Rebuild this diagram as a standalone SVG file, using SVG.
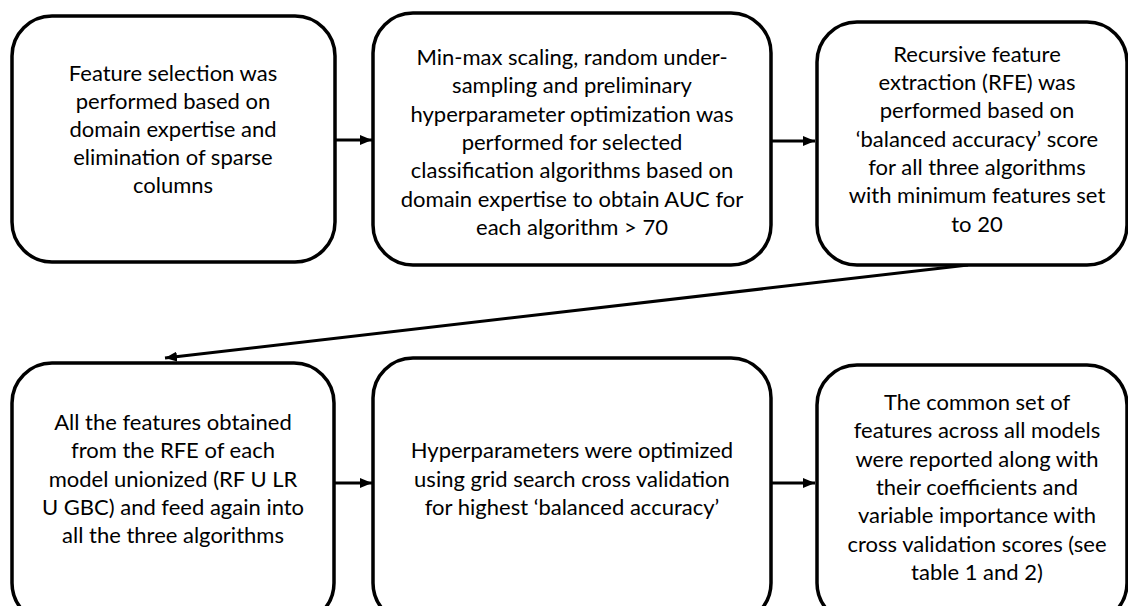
<svg xmlns="http://www.w3.org/2000/svg" width="1128" height="606" viewBox="0 0 1128 606">
<style>
.box{fill:#fff;stroke:#000;stroke-width:3.5}
.t{font-family:Lato,"Liberation Sans",sans-serif;font-size:22px;fill:#000;text-anchor:middle}
.c{stroke:#000;stroke-width:3;fill:none}
</style>
<defs>
<marker id="ah" viewBox="0 0 12 10" refX="12" refY="5" markerWidth="12" markerHeight="10" markerUnits="userSpaceOnUse" orient="auto">
<path d="M0,0 L12,5 L0,10 Z" fill="#000"/>
</marker>
</defs>
<rect width="1128" height="606" fill="#fff"/>
<g id="connectors">
<line class="c" x1="335" y1="140" x2="372" y2="140" marker-end="url(#ah)"/>
<line class="c" x1="772" y1="141" x2="815" y2="141" marker-end="url(#ah)"/>
<line class="c" x1="968" y1="265" x2="165" y2="358" marker-end="url(#ah)"/>
<line class="c" x1="334" y1="483" x2="372" y2="483" marker-end="url(#ah)"/>
<line class="c" x1="772" y1="483" x2="815" y2="483" marker-end="url(#ah)"/>
</g>
<g id="n1">
<rect class="box" x="12" y="16" width="323" height="246" rx="40"/>
<text class="t"><tspan x="173" y="81">Feature selection was</tspan><tspan x="173" y="109">performed based on</tspan><tspan x="173" y="137">domain expertise and</tspan><tspan x="173" y="165">elimination of sparse</tspan><tspan x="173" y="193">columns</tspan></text>
</g>
<g id="n2">
<rect class="box" x="373" y="13" width="398" height="252" rx="40"/>
<text class="t"><tspan x="572" y="65">Min-max scaling, random under-</tspan><tspan x="572" y="93">sampling and preliminary</tspan><tspan x="572" y="122">hyperparameter optimization was</tspan><tspan x="572" y="150">performed for selected</tspan><tspan x="572" y="178">classification algorithms based on</tspan><tspan x="572" y="207">domain expertise to obtain AUC for</tspan><tspan x="572" y="235">each algorithm &gt; 70</tspan></text>
</g>
<g id="n3">
<rect class="box" x="817" y="22" width="310" height="243" rx="40"/>
<text class="t"><tspan x="977" y="62">Recursive feature</tspan><tspan x="977" y="90">extraction (RFE) was</tspan><tspan x="977" y="118">performed based on</tspan><tspan x="977" y="147">‘balanced accuracy’ score</tspan><tspan x="977" y="175">for all three algorithms</tspan><tspan x="977" y="203">with minimum features set</tspan><tspan x="977" y="232">to 20</tspan></text>
</g>
<g id="n4">
<rect class="box" x="12" y="363" width="322" height="260" rx="40"/>
<text class="t"><tspan x="173" y="430">All the features obtained</tspan><tspan x="173" y="458">from the RFE of each</tspan><tspan x="173" y="487">model unionized (RF U LR</tspan><tspan x="173" y="515">U GBC) and feed again into</tspan><tspan x="173" y="543">all the three algorithms</tspan></text>
</g>
<g id="n5">
<rect class="box" x="373" y="358" width="398" height="265" rx="40"/>
<text class="t"><tspan x="572" y="458">Hyperparameters were optimized</tspan><tspan x="572" y="487">using grid search cross validation</tspan><tspan x="572" y="515">for highest ‘balanced accuracy’</tspan></text>
</g>
<g id="n6">
<rect class="box" x="817" y="365" width="310" height="258" rx="40"/>
<text class="t"><tspan x="977" y="410">The common set of</tspan><tspan x="977" y="438">features across all models</tspan><tspan x="977" y="467">were reported along with</tspan><tspan x="977" y="495">their coefficients and</tspan><tspan x="977" y="523">variable importance with</tspan><tspan x="977" y="552">cross validation scores (see</tspan><tspan x="977" y="580">table 1 and 2)</tspan></text>
</g>
</svg>
